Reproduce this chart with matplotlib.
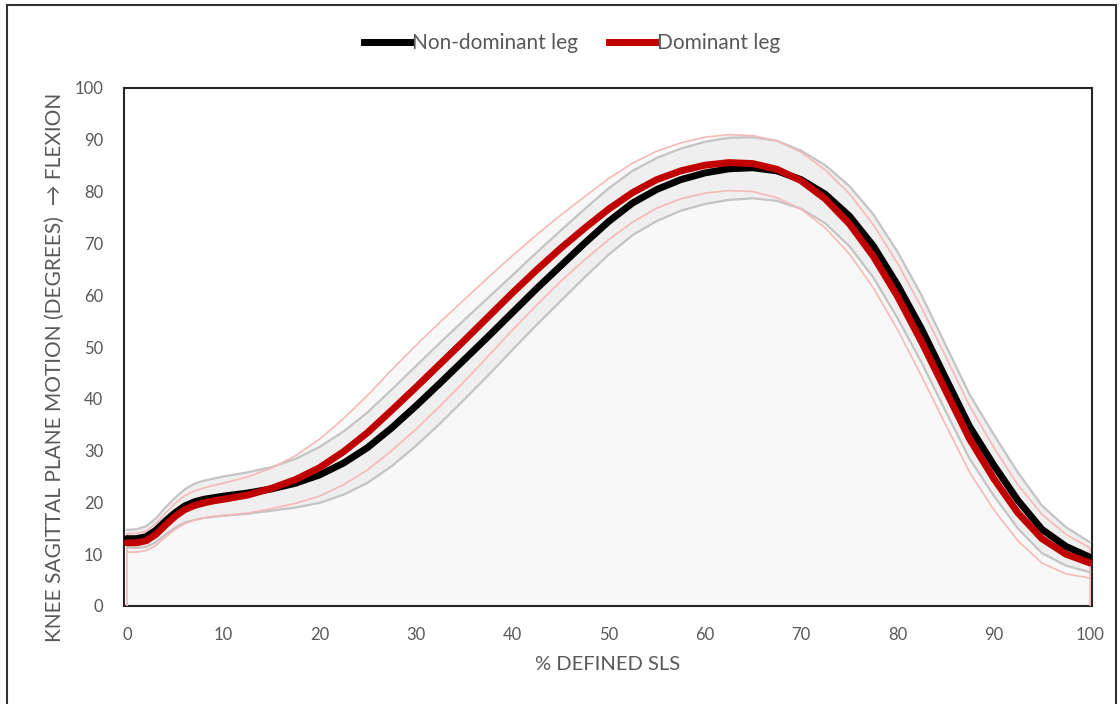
import numpy as np
import matplotlib.pyplot as plt
from matplotlib.lines import Line2D
from matplotlib.patches import Rectangle

plt.rcParams['font.family'] = ['Lato', 'DejaVu Sans']

# % of the defined single-leg squat (denser where the curves bend at the start)
pct = [0, 1, 2, 3, 4, 5, 6, 7, 8, 9, 10,
       12.5, 15, 17.5, 20, 22.5, 25, 27.5, 30, 32.5, 35, 37.5, 40, 42.5, 45,
       47.5, 50, 52.5, 55, 57.5, 60, 62.5, 65, 67.5, 70, 72.5, 75, 77.5, 80,
       82.5, 85, 87.5, 90, 92.5, 95, 97.5, 100]

# knee flexion mean and SD (degrees)
nondom_mean = [13.0, 13.0, 13.4, 14.6, 16.4, 18.0, 19.3, 20.1, 20.6, 20.9, 21.2,
               21.8, 22.6, 23.7, 25.3, 27.6, 30.6, 34.4, 38.6, 43.0, 47.5, 52.0,
               56.6, 61.2, 65.6, 70.0, 74.2, 77.8, 80.4, 82.3, 83.6, 84.4, 84.6,
               84.0, 82.3, 79.5, 75.3, 69.5, 62.0, 53.5, 44.0, 34.6, 27.2, 20.4,
               14.8, 11.5, 9.4]
nondom_sd = [1.7, 1.8, 2.0, 2.3, 2.6, 2.9, 3.2, 3.5, 3.6, 3.7, 3.8,
             4.0, 4.2, 4.7, 5.4, 6.1, 6.8, 7.4, 7.7, 7.8, 7.7, 7.5,
             7.2, 7.0, 6.8, 6.6, 6.4, 6.2, 6.1, 6.0, 6.0, 6.0, 5.9,
             5.8, 5.6, 5.6, 5.8, 6.1, 6.4, 6.5, 6.4, 6.2, 5.9, 5.4,
             4.6, 3.7, 2.9]

dom_mean = [12.2, 12.2, 12.6, 13.8, 15.6, 17.3, 18.6, 19.4, 19.9, 20.3, 20.6,
            21.4, 22.7, 24.4, 26.7, 29.8, 33.5, 37.8, 42.2, 46.7, 51.2, 55.8,
            60.4, 64.8, 69.0, 72.9, 76.6, 79.8, 82.3, 84.0, 85.1, 85.6, 85.4,
            84.3, 82.1, 78.6, 73.8, 67.5, 59.8, 51.0, 41.6, 32.2, 24.6, 18.0,
            13.0, 10.0, 8.3]
dom_sd = [1.8, 1.8, 1.9, 2.1, 2.3, 2.5, 2.7, 2.8, 2.9, 3.0, 3.1,
          3.5, 3.9, 4.6, 5.5, 6.4, 7.2, 7.8, 8.1, 8.1, 7.9, 7.6,
          7.2, 6.8, 6.4, 6.1, 5.9, 5.7, 5.5, 5.4, 5.4, 5.4, 5.4,
          5.5, 5.5, 5.6, 5.8, 6.1, 6.4, 6.6, 6.6, 6.4, 6.0, 5.4,
          4.7, 3.8, 2.9]

x = np.array(pct)
nd_m = np.array(nondom_mean)
nd_s = np.array(nondom_sd)
d_m = np.array(dom_mean)
d_s = np.array(dom_sd)

fig = plt.figure(figsize=(11.2, 7.04), dpi=100)
ax = fig.add_axes([124 / 1120, 1 - 606 / 704, 968 / 1120, 518 / 704])

grey_sd = '#c4c4c4'
pink_sd = '#f6b9b9'
label_col = '#595959'

# shaded areas: under the dominant upper bound, then the non-dominant SD band
ax.fill_between(x, 0, d_m + d_s, color='#f8f8f8', lw=0, zorder=1)
ax.fill_between(x, nd_m - nd_s, nd_m + nd_s, color='#efefef', lw=0, zorder=2)
ax.vlines([x[0], x[-1]], 0, [d_m[0] + d_s[0], d_m[-1] + d_s[-1]],
          color=pink_sd, lw=1.2, zorder=3)

ax.plot(x, nd_m + nd_s, color=grey_sd, lw=1.6, zorder=3)
ax.plot(x, nd_m - nd_s, color=grey_sd, lw=1.6, zorder=3)
ax.plot(x, d_m + d_s, color=pink_sd, lw=1.2, zorder=4)
ax.plot(x, d_m - d_s, color=pink_sd, lw=1.2, zorder=4)

ax.plot(x, nd_m, color='black', lw=5, solid_capstyle='round', zorder=5)
ax.plot(x, d_m, color='#c00000', lw=5, solid_capstyle='round', zorder=6)

ax.set_xlim(-0.3, 100.2)
ax.set_ylim(0, 100)
ax.set_xticks(range(0, 101, 10))
ax.set_yticks(range(0, 101, 10))
ax.tick_params(length=0, labelsize=12, labelcolor=label_col, pad=15)
for sp in ax.spines.values():
    sp.set_color('#262626')
    sp.set_linewidth(1.5)

ax.set_xlabel('% DEFINED SLS', fontsize=14.5, color=label_col)
ax.xaxis.set_label_coords(0.5, -0.097)
ax.set_ylabel('KNEE SAGITTAL PLANE MOTION (DEGREES)  \u2192 FLEXION',
              fontsize=15, color=label_col)
ax.yaxis.set_label_coords(-0.061, 0.461)

handles = [Line2D([], [], color='black', lw=5),
           Line2D([], [], color='#c00000', lw=5)]
fig.legend(handles, ['Non-dominant leg', 'Dominant leg'], loc='center',
           bbox_to_anchor=(572 / 1120, 1 - 43 / 704), ncol=2, frameon=False,
           fontsize=15, handlelength=2.2, handletextpad=0.1,
           columnspacing=1.5, labelcolor=label_col)

# outer chart border
fig.patches.append(Rectangle((7 / 1120, -0.01), 1109 / 1120, 1.0 - 5 / 704 + 0.01,
                             transform=fig.transFigure, fill=False,
                             edgecolor='#333333', lw=1.5))

fig.savefig('out.png', dpi=100)
